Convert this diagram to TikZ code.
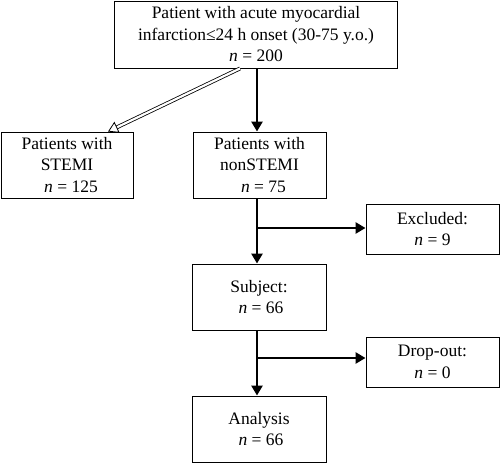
\documentclass[tikz,border=0pt]{standalone}
\usepackage{fontspec}
\setmainfont{Liberation Serif}
\usetikzlibrary{arrows.meta}
\begin{document}
\begin{tikzpicture}[x=1pt,y=-1pt,
  box/.style={draw=black, line width=0.9pt, align=center, inner sep=0pt,
    font=\fontsize{17.5}{21.5}\selectfont},
  flow/.style={line width=2.6pt, -{Triangle[length=10pt,width=11pt]}},
  hollow/.style={double=white, double distance=2.2pt, line width=0.8pt,
    -{Triangle[open,length=10pt,width=12pt,line width=0.8pt]}}]
\useasboundingbox (0,0) rectangle (500,463);
\node[box, minimum width=283pt, minimum height=67pt] (top) at (256,34.5)
  {Patient with acute myocardial\\infarction≤24 h onset (30-75 y.o.)\\\textit{n} = 200};
\node[box, minimum width=132pt, minimum height=66pt] (stemi) at (67,165)
  {Patients with\\STEMI\\\hspace*{8pt}\textit{n} = 125};
\node[box, minimum width=133pt, minimum height=66pt] (nonstemi) at (259.5,165)
  {Patients with\\nonSTEMI\\\hspace*{8pt}\textit{n} = 75};
\node[box, minimum width=133pt, minimum height=50pt] (excl) at (432.5,229)
  {Excluded:\\\textit{n} = 9};
\node[box, minimum width=134pt, minimum height=66pt] (subj) at (259,297)
  {Subject:\\\hspace*{4pt}\textit{n} = 66};
\node[box, minimum width=133pt, minimum height=50pt] (drop) at (432.5,362)
  {Drop-out:\\\textit{n} = 0};
\node[box, minimum width=134pt, minimum height=66pt] (anal) at (259,429)
  {Analysis\\\hspace*{4pt}\textit{n} = 66};
\coordinate (sx) at (257,0);
\coordinate (b1) at (257,228);
\coordinate (b2) at (257,358);
\draw[flow] (top.south -| sx) -- (nonstemi.north -| sx);
\draw[flow] (nonstemi.south -| sx) -- (subj.north -| sx);
\draw[flow] (subj.south -| sx) -- (anal.north -| sx);
\draw[flow] (b1) -- (excl.west |- b1);
\draw[flow] (b2) -- (drop.west |- b2);
\draw[hollow] ([xshift=-16pt]top.south) -- ([xshift=41pt]stemi.north);
\end{tikzpicture}
\end{document}
